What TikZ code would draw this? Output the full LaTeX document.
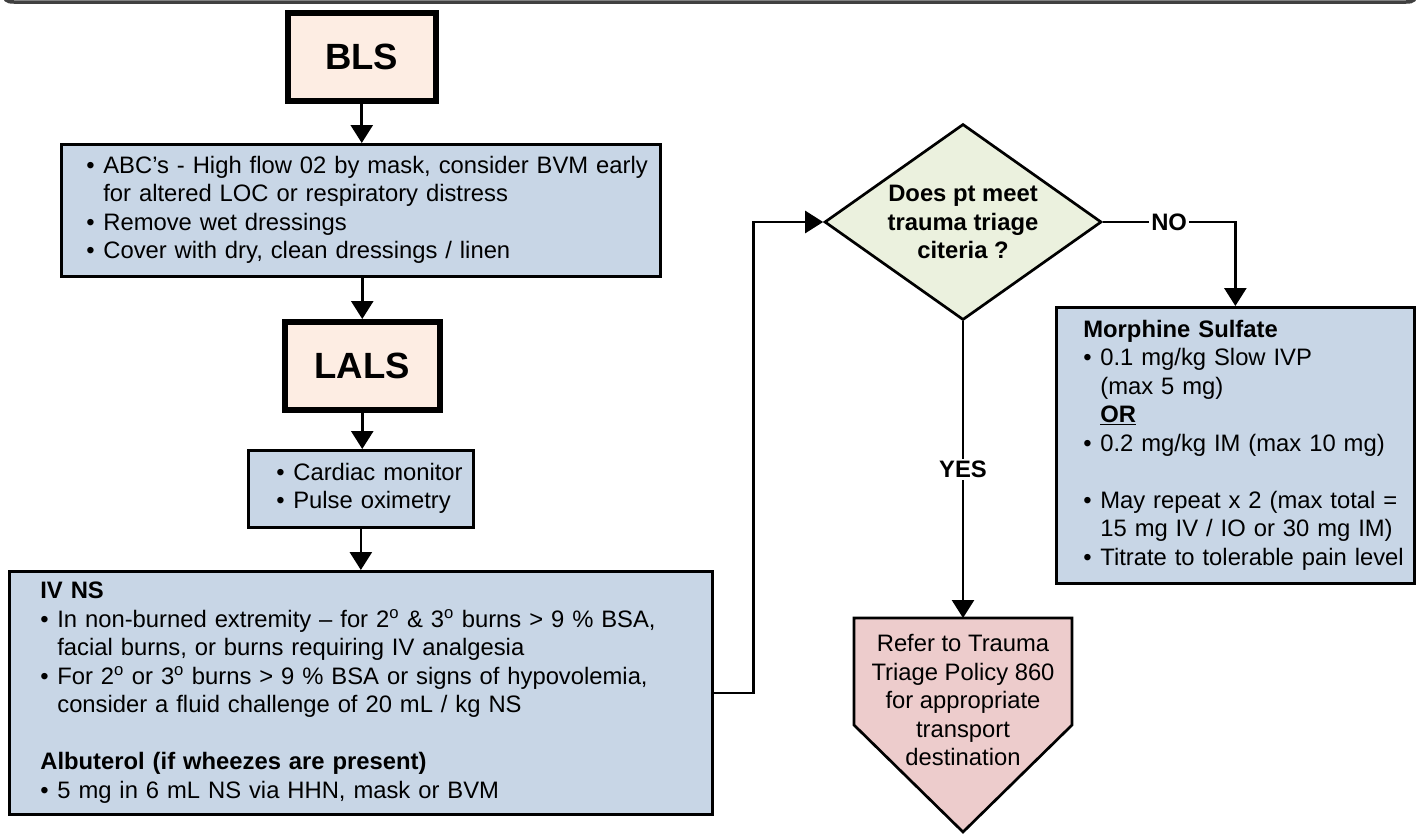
\documentclass[tikz,border=0pt]{standalone}
\usepackage{fontspec}
\setmainfont{Liberation Sans}
\usetikzlibrary{shapes.geometric,arrows.meta}
\definecolor{boxblue}{RGB}{200,214,230}
\definecolor{peach}{RGB}{253,237,227}
\definecolor{sage}{RGB}{235,241,222}
\definecolor{rose}{RGB}{237,204,204}
\newcommand{\bul}{\makebox[17pt][l]{\textbullet}}
\newcommand{\ind}{\hspace*{17pt}}
\begin{document}
\begin{tikzpicture}[x=1pt,y=-1pt,
  txt/.style={font=\fontsize{23.8}{28.5}\selectfont},
  boldtxt/.style={font=\fontsize{23.8}{28.5}\selectfont\bfseries},
  infobox/.style={draw, line width=2.7pt, fill=boxblue, anchor=north west, align=left,
    inner xsep=0pt, inner ysep=0pt, txt},
  levelbox/.style={draw, line width=5.5pt, fill=peach, anchor=north west,
    font=\fontsize{36.5}{40}\selectfont\bfseries},
  conn/.style={line width=2.7pt, -{Triangle[length=18pt,width=22pt]}},
  lbl/.style={fill=white, inner sep=2pt, boldtxt}]
\useasboundingbox (0,0) rectangle (1420,833);

% top frame edge
\draw[line width=3.5pt, black!75] (4,-8) .. controls (4,0) and (6,2) .. (14,2) -- (1406,2) .. controls (1414,2) and (1416,0) .. (1416,-8);

% left column
\node[levelbox, minimum width=148pt, minimum height=88pt] (bls) at (285,10) {BLS};

\node[infobox, minimum width=599pt, minimum height=132pt, text width=599pt] (abc) at (60,143)
{\hspace*{25pt}\begin{tabular}{@{}l@{}}
\bul ABC’s - High flow 02 by mask, consider BVM early\\
\ind for altered LOC or respiratory distress\\
\bul Remove wet dressings\\
\bul Cover with dry, clean dressings / linen
\end{tabular}};

\node[levelbox, minimum width=155pt, minimum height=88pt] (lals) at (282,319) {LALS};

\node[infobox, minimum width=225pt, minimum height=77pt, text width=225pt] (card) at (247,449)
{\hspace*{28pt}\begin{tabular}{@{}l@{}}
\bul Cardiac monitor\\
\bul Pulse oximetry
\end{tabular}};

\node[infobox, minimum width=703pt, minimum height=243pt, text width=703pt] (ivns) at (8,570)
{\hspace*{31pt}\begin{tabular}{@{}l@{}}
\textbf{IV NS}\\
\bul In non-burned extremity – for 2\textsuperscript{o} \& 3\textsuperscript{o} burns > 9 \% BSA,\\
\ind facial burns, or burns requiring IV analgesia\\
\bul For 2\textsuperscript{o} or 3\textsuperscript{o} burns > 9 \% BSA or signs of hypovolemia,\\
\ind consider a fluid challenge of 20 mL / kg NS\\
\mbox{}\\
\textbf{Albuterol (if wheezes are present)}\\
\bul 5 mg in 6 mL NS via HHN, mask or BVM
\end{tabular}};

% decision
\node[diamond, draw, line width=2.7pt, fill=sage, minimum width=277pt, minimum height=196pt, inner sep=0pt] (q) at (963,222) {};
\node[boldtxt, align=center] (qtext) at (963,222) {Does pt meet\\trauma triage\\citeria ?};

% morphine
\node[infobox, minimum width=358pt, minimum height=276pt, text width=358pt] (morph) at (1055,306)
{\hspace*{27pt}\begin{tabular}{@{}l@{}}
\textbf{Morphine Sulfate}\\
\bul 0.1 mg/kg Slow IVP\\
\ind (max 5 mg)\\
\ind \underline{\textbf{OR}}\\
\bul 0.2 mg/kg IM (max 10 mg)\\
\mbox{}\\
\bul May repeat x 2 (max total =\\
\ind 15 mg IV / IO or 30 mg IM)\\
\bul Titrate to tolerable pain level
\end{tabular}};

% refer pentagon
\draw[line width=2.7pt, fill=rose] (854,618) -- (1072,618) -- (1072,725) -- (963,832) -- (854,725) -- cycle;
\coordinate (reftop) at (963,618);
\node[txt, align=center] (reftext) at (963,700) {Refer to Trauma\\Triage Policy 860\\for appropriate\\transport\\destination};

% connectors
\draw[conn] (bls.south) -- (abc.north -| bls.south);
\draw[conn] (abc.south -| lals.north) -- (lals.north);
\draw[conn] (lals.south) -- (card.north -| lals.south);
\draw[conn] (card.south) -- (ivns.north -| card.south);
\draw[conn] (ivns.east) -- ++(40pt,0) |- (q.west);
\draw[conn] (q.east) -| node[pos=0.25, lbl] (nolbl) {NO} (morph.north);
\draw[conn] (q.south) -- node[lbl] (yeslbl) {YES} (reftop);
\end{tikzpicture}
\end{document}
